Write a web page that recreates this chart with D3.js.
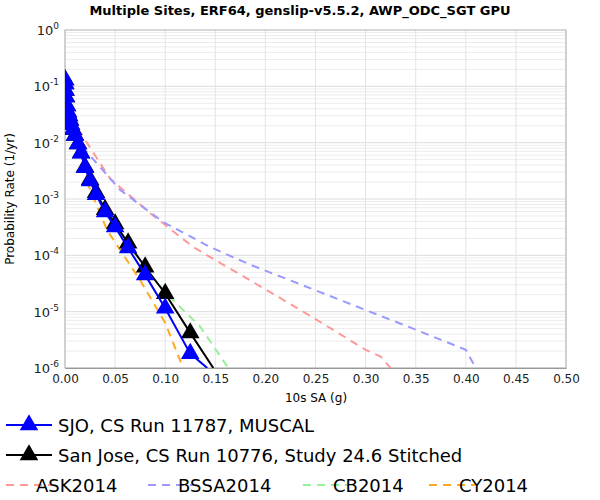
<!DOCTYPE html><html><head><meta charset="utf-8"><script src="https://cdn.jsdelivr.net/npm/d3@7"></script>
<style>body{margin:0;background:#fff}text{font-family:"DejaVu Sans",sans-serif}</style></head><body><svg id="c" width="600" height="500"></svg>
<script>
const title="Multiple Sites, ERF64, genslip-v5.5.2, AWP_ODC_SGT GPU";
const xTicks=[0,0.05,0.1,0.15,0.2,0.25,0.3,0.35,0.4,0.45,0.5];
const yTickExps=[0,-1,-2,-3,-4,-5,-6];
const xs=[0.0001,0.0002,0.0005,0.001,0.002,0.003,0.004,0.005,0.006,0.008,0.01,0.013,0.016,0.02,0.025,0.031,0.04,0.05,0.063,0.08,0.1,0.125];
const sjo=[0.13,0.11,0.085,0.065,0.045,0.035,0.03,0.025,0.021,0.017,0.0135,0.0095,0.0065,0.0036,0.0021,0.0012,0.00059,0.00032,0.000135,0.000045,0.0000115,0.0000018];
const sanjose=[0.13,0.11,0.085,0.065,0.045,0.035,0.03,0.025,0.021,0.017,0.0135,0.0095,0.0066,0.0037,0.0022,0.0013,0.00065,0.00036,0.000165,0.000062,0.000021,0.0000042];
const sjoEnd=[0.142,0.000001], sjEnd=[0.148,0.000001];
const askX=[0.005,0.015,0.045,0.085,0.128,0.158,0.2,0.25,0.3,0.315,0.325];
const askY=[0.028,0.0155,0.0023,0.00056,0.00014,0.000068,0.000025,0.0000074,0.0000021,0.0000016,0.000001];
const bssaX=[0.01,0.02,0.055,0.098,0.145,0.185,0.25,0.3,0.35,0.4,0.41];
const bssaY=[0.014,0.0074,0.00145,0.00039,0.00014,0.000068,0.000024,0.0000107,0.0000048,0.0000021,0.000001];
const cbX=[0.025,0.04,0.063,0.08,0.1,0.135,0.163];
const cbY=[0.0021,0.00062,0.00016,0.00006,0.000022,0.0000054,0.000001];
const cyX=[0.022,0.042,0.075,0.1,0.118];
const cyY=[0.002,0.00028,0.000036,0.0000063,0.000001];

const svg=d3.select("#c");
const L=65,R=566,T=30,B=368;
const x=d3.scaleLinear().domain([0,0.5]).range([L,R]);
const y=d3.scaleLog().domain([1e-6,1]).range([B,T]);
const g=svg.append("g");
for(let e=-6;e<0;e++)for(let m=1;m<10;m++){const v=m*Math.pow(10,e);
 g.append("line").attr("x1",L).attr("x2",R).attr("y1",y(v)).attr("y2",y(v)).attr("stroke",m==1?"#dcdcdc":"#ececec");}
xTicks.forEach(t=>g.append("line").attr("x1",x(t)).attr("x2",x(t)).attr("y1",T).attr("y2",B).attr("stroke","#e4e4e4"));
g.append("rect").attr("x",L).attr("y",T).attr("width",R-L).attr("height",B-T).attr("fill","none").attr("stroke","#b0b0b0");
const xa=svg.append("g").attr("transform",`translate(0,${B})`).call(d3.axisBottom(x).tickValues(xTicks).tickFormat(d3.format(".2f")).tickSize(0).tickPadding(6));
xa.select(".domain").attr("stroke","#999");xa.selectAll("text").attr("font-size",12).attr("fill","#222").attr("font-family","DejaVu Sans");
yTickExps.forEach(e=>{const t=svg.append("text").attr("x",L-6).attr("y",y(Math.pow(10,e))+5).attr("text-anchor","end").attr("font-size",13).attr("fill","#222");
 t.append("tspan").text("10");t.append("tspan").attr("dy",-6).attr("font-size",9).text(e);});
svg.append("text").attr("x",300).attr("y",15).attr("text-anchor","middle").attr("font-weight","bold").attr("font-size",13).text(title);
svg.append("text").attr("x",316).attr("y",402).attr("text-anchor","middle").attr("font-size",12).text("10s SA (g)");
svg.append("text").attr("transform",`translate(14,${(T+B)/2}) rotate(-90)`).attr("text-anchor","middle").attr("font-size",12).text("Probability Rate (1/yr)");
svg.append("clipPath").attr("id","cp").append("rect").attr("x",L).attr("y",T-10).attr("width",R-L).attr("height",B-T+10);
const p=svg.append("g").attr("clip-path","url(#cp)");
const line=d3.line().x(d=>x(d[0])).y(d=>y(d[1]));
function dash(X,Y,c){p.append("path").attr("d",line(X.map((v,i)=>[v,Y[i]]))).attr("fill","none").attr("stroke",c).attr("stroke-width",2).attr("stroke-dasharray","8,6");}
dash(askX,askY,"#ff9999");dash(bssaX,bssaY,"#9999ff");dash(cbX,cbY,"#99ee99");dash(cyX,cyY,"#ffaa22");
const tri=d3.symbol().type(d3.symbolTriangle).size(150);
function series(Y,end,c){const pts=xs.map((v,i)=>[v,Y[i]]);p.append("path").attr("d",line(pts.concat([end]))).attr("fill","none").attr("stroke",c).attr("stroke-width",2);
 pts.forEach(d=>p.append("path").attr("d",tri).attr("transform",`translate(${x(d[0])},${y(d[1])})`).attr("fill",c));}
series(sanjose,sjEnd,"#000");series(sjo,sjoEnd,"#0000ff");
const leg=[["SJO, CS Run 11787, MUSCAL","#0000ff",6,425],["San Jose, CS Run 10776, Study 24.6 Stitched","#000",6,455]];
leg.forEach(l=>{svg.append("line").attr("x1",l[2]).attr("x2",l[2]+46).attr("y1",l[3]).attr("y2",l[3]).attr("stroke",l[1]).attr("stroke-width",2);
 svg.append("path").attr("d",tri).attr("transform",`translate(${l[2]+23},${l[3]})`).attr("fill",l[1]);
 svg.append("text").attr("x",l[2]+52).attr("y",l[3]+7).attr("font-size",18).text(l[0]);});
[["ASK2014","#ff9999",6],["BSSA2014","#9999ff",148],["CB2014","#99ee99",303],["CY2014","#ffaa22",429]].forEach(l=>{
 svg.append("line").attr("x1",l[2]).attr("x2",l[2]+46).attr("y1",485).attr("y2",485).attr("stroke",l[1]).attr("stroke-width",2).attr("stroke-dasharray","8,6");
 svg.append("text").attr("x",l[2]+30).attr("y",492).attr("font-size",18).text(l[0]);});
</script></body></html>
